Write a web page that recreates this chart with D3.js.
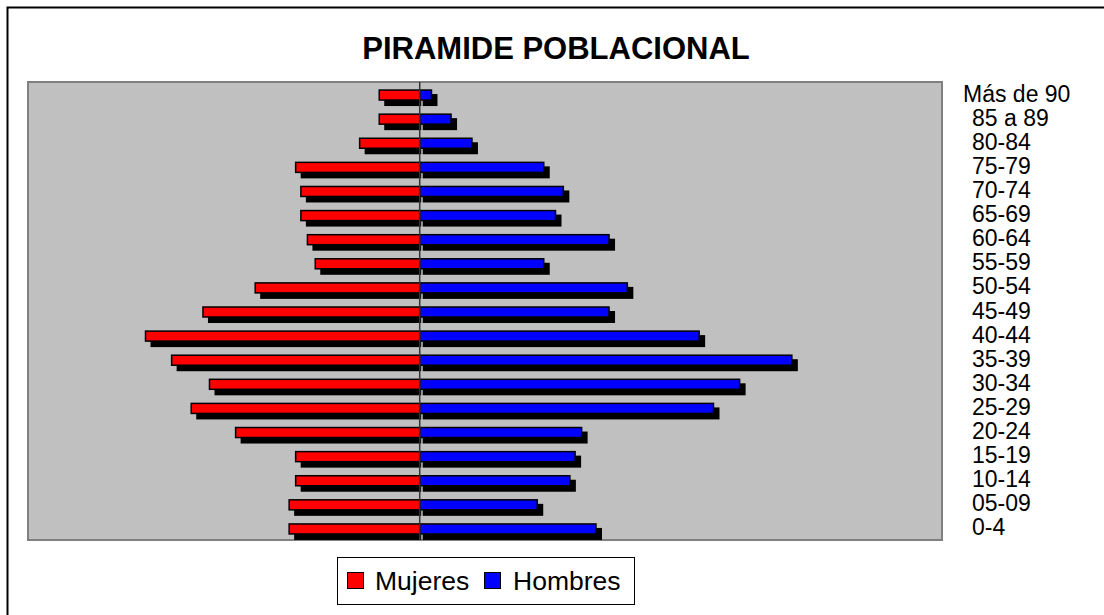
<!DOCTYPE html>
<html>
<head>
<meta charset="utf-8">
<script src="https://cdn.jsdelivr.net/npm/d3@7"></script>
<style>
  html, body { margin: 0; padding: 0; background: #fff; }
  svg { display: block; font-family: "Liberation Sans", Arial, sans-serif; }
</style>
</head>
<body>
<svg id="chart" width="1104" height="615"></svg>
<script>
// Age groups, youngest to oldest
const categories = ["0-4","05-09","10-14","15-19","20-24","25-29","30-34","35-39","40-44","45-49","50-54","55-59","60-64","65-69","70-74","75-79","80-84","85 a 89","Más de 90"];
const mujeres = [100,100,95,95,141,175,161,190,210,166,126,80,86,91,91,95,46,31,31];
const hombres = [135,90,115,119,124,225,245,285,214,145,159,95,145,104,110,95,40,24,9];
const seriesNames = ["Mujeres","Hombres"];
const seriesColors = ["#ff0000","#0000ff"];
const titleText = "PIRAMIDE POBLACIONAL";

const svg = d3.select("#chart");

// outer chart border
svg.append("rect").attr("x", 7.5).attr("y", 7.5).attr("width", 1110).attr("height", 620)
  .attr("fill", "#fff").attr("stroke", "#000").attr("stroke-width", 2);

const plot = {left: 28, right: 942, top: 82, bottom: 540};

const x = d3.scaleLinear().domain([-300, 400]).range([plot.left, plot.right]);
const y = d3.scaleBand().domain(categories.slice().reverse()).range([plot.top, plot.bottom]).padding(0);

// plot area
svg.append("rect").attr("x", plot.left).attr("y", plot.top)
  .attr("width", plot.right - plot.left).attr("height", plot.bottom - plot.top)
  .attr("fill", "#c0c0c0").attr("stroke", "#808080").attr("stroke-width", 2);

// title
svg.append("text").attr("x", 556).attr("y", 59).attr("text-anchor", "middle")
  .attr("font-size", 31).attr("font-weight", "bold").attr("fill", "#000").text(titleText);

const barH = 10;
const data = categories.map((c, i) => ({cat: c, m: mujeres[i], h: hombres[i]}));
const bc = d => y(d.cat) + y.bandwidth() / 2 + 1;

const x0 = x(0);
// shadows
const g = svg.append("g");
g.selectAll(".shm").data(data).join("rect")
  .attr("x", d => x(-d.m) + 5).attr("y", d => bc(d) - barH / 2 + 4)
  .attr("width", d => Math.max(0, x0 + 1.5 - (x(-d.m) + 5))).attr("height", barH + 2)
  .attr("fill", "#000");
g.selectAll(".shh").data(data).join("rect")
  .attr("x", x0 + 3).attr("y", d => bc(d) - barH / 2 + 4)
  .attr("width", d => Math.max(0, x(d.h) + 6 - (x0 + 3))).attr("height", barH + 2)
  .attr("fill", "#000");

// center axis
svg.append("line").attr("x1", x0).attr("x2", x0).attr("y1", plot.top).attr("y2", plot.bottom)
  .attr("stroke", "#333").attr("stroke-width", 1.5);

// bars
g.selectAll(".bm").data(data).join("rect")
  .attr("x", d => x(-d.m)).attr("y", d => bc(d) - barH / 2)
  .attr("width", d => x0 - x(-d.m)).attr("height", barH)
  .attr("fill", seriesColors[0]).attr("stroke", "#000").attr("stroke-width", 1.5);
g.selectAll(".bh").data(data).join("rect")
  .attr("x", x0).attr("y", d => bc(d) - barH / 2)
  .attr("width", d => x(d.h) - x0).attr("height", barH)
  .attr("fill", seriesColors[1]).attr("stroke", "#000").attr("stroke-width", 1.5);

// category labels on the right
svg.append("g").selectAll("text").data(categories).join("text")
  .attr("x", (d, i) => i === categories.length - 1 ? 963 : 972)
  .attr("y", d => y(d) + y.bandwidth() / 2 + 7.5)
  .attr("font-size", 23).attr("fill", "#000").text(d => d);

// legend
const lg = svg.append("g");
lg.append("rect").attr("x", 337.5).attr("y", 557.5).attr("width", 297).attr("height", 47)
  .attr("fill", "#fff").attr("stroke", "#000").attr("stroke-width", 1);
const legX = [[347, 375], [484, 513]];
seriesNames.forEach((n, i) => {
  lg.append("rect").attr("x", legX[i][0] + 0.5).attr("y", 572.5).attr("width", 16).attr("height", 16)
    .attr("fill", seriesColors[i]).attr("stroke", "#000").attr("stroke-width", 1);
  lg.append("text").attr("x", legX[i][1]).attr("y", 589.5).attr("font-size", 26.5)
    .attr("fill", "#000").text(n);
});
</script>
</body>
</html>
